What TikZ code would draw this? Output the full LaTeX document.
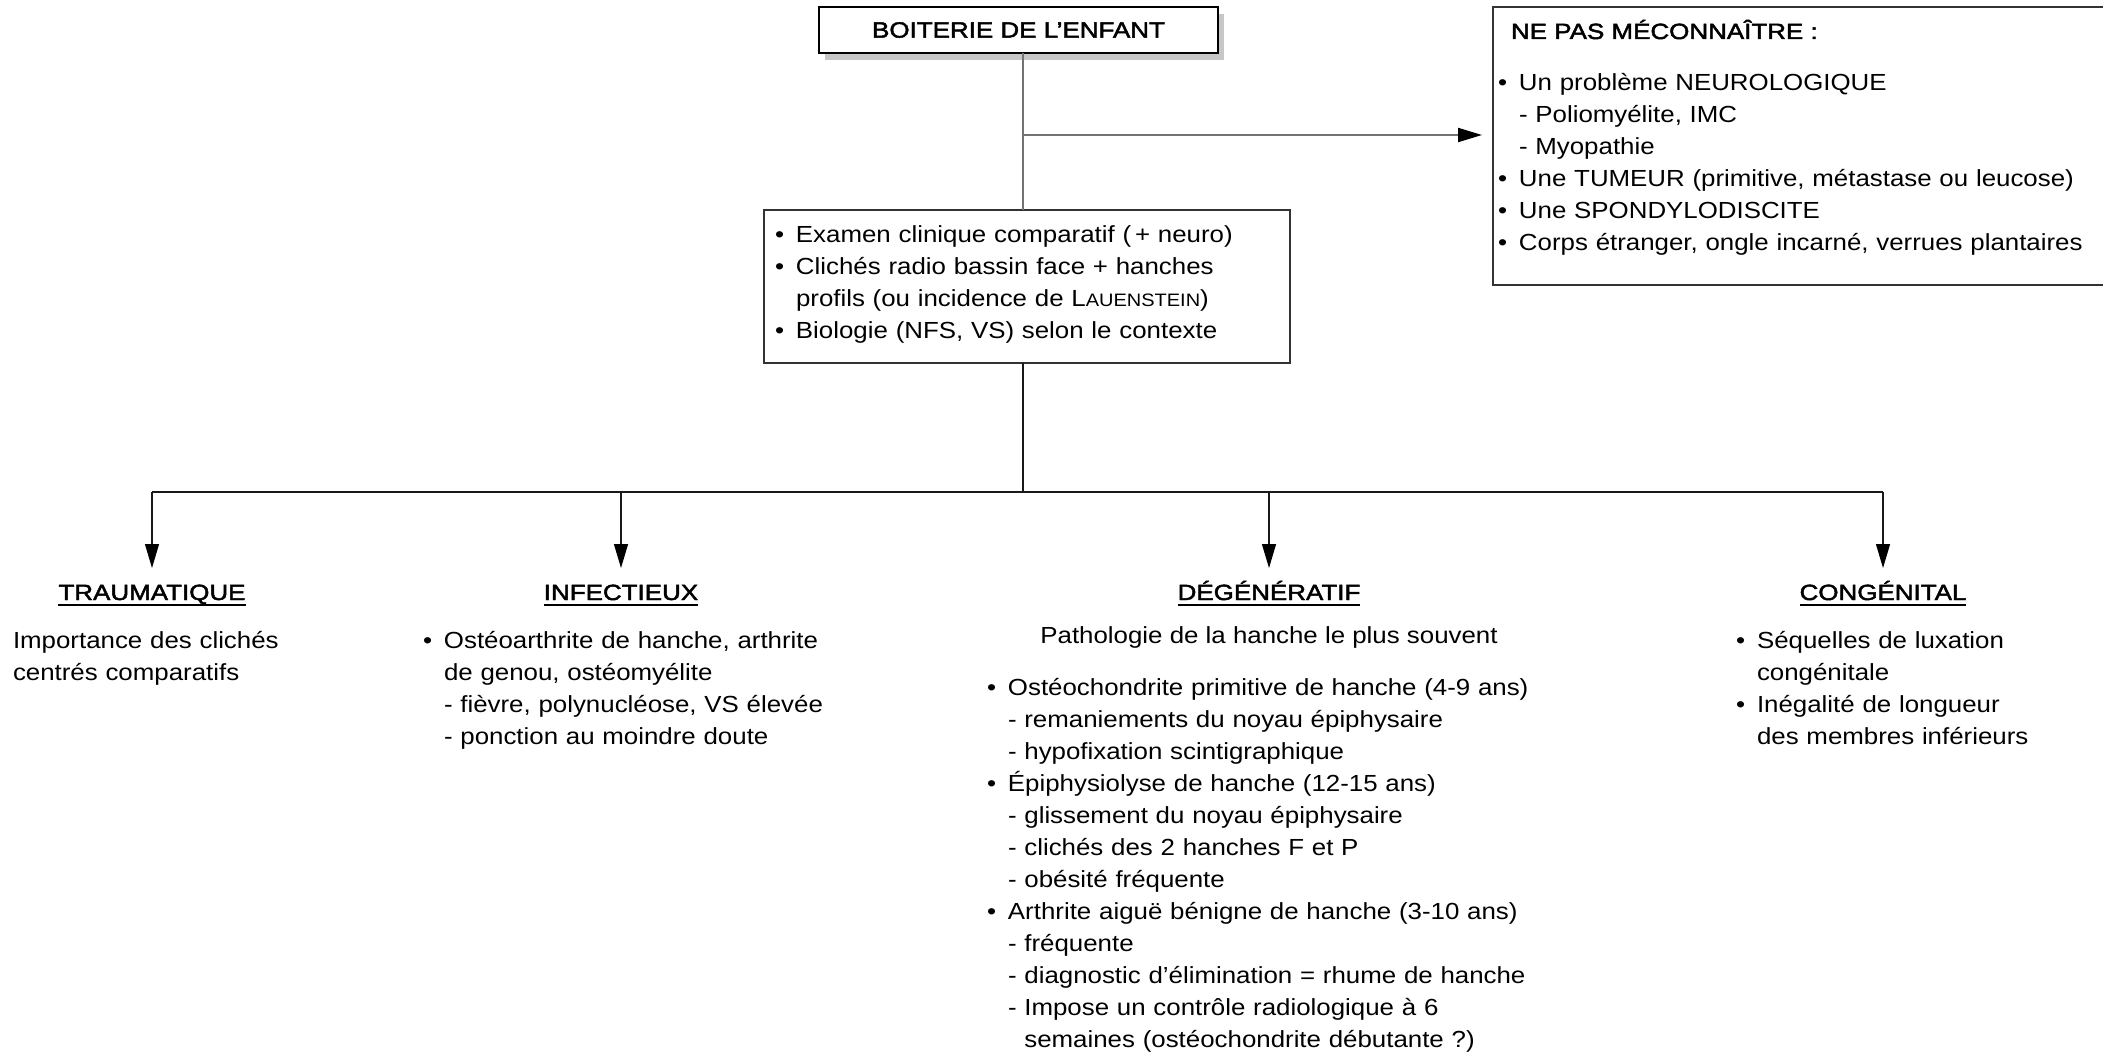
\documentclass[tikz,border=0pt]{standalone}
\usepackage{fontspec}
\setmainfont[FakeStretch=1.11]{Liberation Sans}
\newfontfamily\headfont[FakeStretch=1.18,FakeBold=2.2]{Liberation Sans}
\usetikzlibrary{arrows.meta,shadows}

% type sizes (1pt = one unit of the drawing)
\newcommand\bodysize{\fontsize{23.3pt}{32pt}\selectfont}
\newcommand\headsize{\headfont\fontsize{22pt}{26pt}\selectfont}
% list helpers: bullet with hanging indent, continuation indent
\newcommand\itm{\makebox[21pt][l]{•}}
\newcommand\cont{\hspace*{21pt}}
\newcommand\petitcap[1]{{\fontsize{18pt}{18pt}\selectfont #1}}

\begin{document}
\begin{tikzpicture}[x=1pt,y=-1pt,
  every node/.style={inner sep=0pt, outer sep=0pt},
  txt/.style={font=\bodysize, align=left, text width=#1, anchor=base west},
  txt/.default=600pt,
  head/.style={font=\headsize, anchor=base, text depth=0pt},
  box/.style={draw=black!80, line width=2pt},
  trunk/.style={draw=black!55, line width=2pt},
  branch/.style={draw=black!90, line width=1.2pt},
  tip/.style={-{Triangle[length=24pt,width=14pt,color=black]}},
  ul/.style={draw=black, line width=1.8pt}
]
\useasboundingbox (0,0) rectangle (2103,1054);

% --- title box
\node[draw=black, line width=1.6pt, fill=white, minimum width=399pt,
      minimum height=46pt, font=\headsize,
      drop shadow={shadow xshift=6pt, shadow yshift=-7pt, fill=black!22, opacity=1}]
  (top) at (1018.5,30) {BOITERIE DE L’ENFANT};

% --- first examinations
\node[box, minimum width=526pt, minimum height=153pt, anchor=north west]
  (exam) at (764,210) {};
\node[txt=520pt] (examtxt) at (775,242)
  {\itm Examen clinique comparatif (\,+ neuro)\\
   \itm Clichés radio bassin face + hanches\\
   \cont profils (ou incidence de L\petitcap{AUENSTEIN})\\
   \itm Biologie (NFS, VS) selon le contexte};

% --- warning box (runs past the right edge)
\node[box, minimum width=700pt, minimum height=278pt, anchor=north west]
  (warn) at (1493,7) {};
\node[font=\headsize, anchor=base west] (warnhead) at (1511,39)
  {NE PAS MÉCONNAÎTRE :};
\node[txt] (warntxt) at (1498,91)
  {\itm Un problème NEUROLOGIQUE\\
   \cont - Poliomyélite, IMC\\
   \cont - Myopathie\\
   \itm Une TUMEUR (primitive, métastase ou leucose)\\
   \itm Une SPONDYLODISCITE\\
   \itm Corps étranger, ongle incarné, verrues plantaires};

% --- trunk connectors
\coordinate (spine) at (1023,135);
\draw[trunk] (top.south -| spine) -- (exam.north -| spine);
\draw[trunk, tip, shorten >=11pt] (spine) -- (spine -| warn.west);

% --- the four families
\coordinate (hub) at (1023,492);
\node[head] (trau) at (152,600) {TRAUMATIQUE};
\node[head] (infe) at (621,600) {INFECTIEUX};
\node[head] (dege) at (1269,600) {DÉGÉNÉRATIF};
\node[head] (cong) at (1883,600) {CONGÉNITAL};

\draw[branch] (exam.south -| hub) -- (hub);
\draw[branch] (trau |- hub) -- (cong |- hub);
\foreach \h in {trau,infe,dege,cong}{
  \draw[branch, tip] (\h |- hub) -- ([yshift=32pt]\h.base);
  \draw[ul] ([yshift=-5pt]\h.south west) -- ([yshift=-5pt]\h.south east);
}

% --- family contents
\node[txt] (trautxt) at (13,648)
  {Importance des clichés\\
   centrés comparatifs};

\node[txt] (infetxt) at (423,648)
  {\itm Ostéoarthrite de hanche, arthrite\\
   \cont de genou, ostéomyélite\\
   \cont - fièvre, polynucléose, VS élevée\\
   \cont - ponction au moindre doute};

\node[font=\bodysize, anchor=base] (degepath) at (1269,643)
  {Pathologie de la hanche le plus souvent};
\node[txt] (degetxt) at (987,695)
  {\itm Ostéochondrite primitive de hanche (4-9 ans)\\
   \cont - remaniements du noyau épiphysaire\\
   \cont - hypofixation scintigraphique\\
   \itm Épiphysiolyse de hanche (12-15 ans)\\
   \cont - glissement du noyau épiphysaire\\
   \cont - clichés des 2 hanches F et P\\
   \cont - obésité fréquente\\
   \itm Arthrite aiguë bénigne de hanche (3-10 ans)\\
   \cont - fréquente\\
   \cont - diagnostic d’élimination = rhume de hanche\\
   \cont - Impose un contrôle radiologique à 6\\
   \cont \phantom{- }semaines (ostéochondrite débutante ?)};

\node[txt] (congtxt) at (1736,648)
  {\itm Séquelles de luxation\\
   \cont congénitale\\
   \itm Inégalité de longueur\\
   \cont des membres inférieurs};
\end{tikzpicture}
\end{document}
